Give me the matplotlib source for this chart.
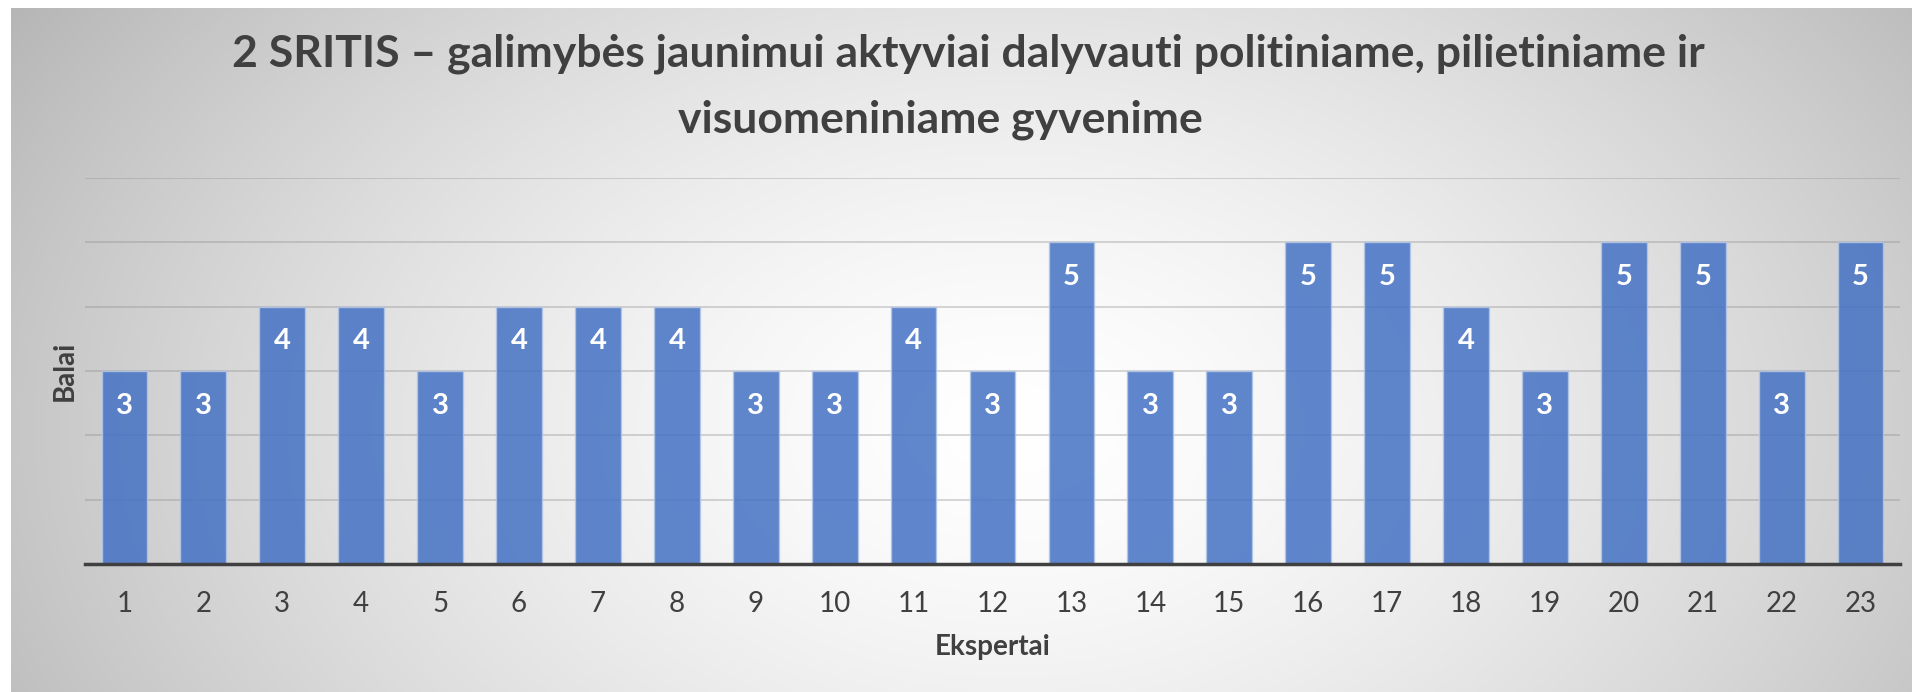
import matplotlib.pyplot as plt
import numpy as np

# data
ekspertai = [str(i) for i in range(1, 24)]
balai = [3, 3, 4, 4, 3, 4, 4, 4, 3, 3, 4, 3, 5, 3, 3, 5, 5, 4, 3, 5, 5, 3, 5]
title_1 = "2 SRITIS \u2013 galimybės jaunimui aktyviai dalyvauti politiniame, pilietiniame ir"
title_2 = "visuomeniniame gyvenime"

W, H = 1912, 692
plt.rcParams['font.family'] = ['Lato', 'DejaVu Sans']
txt = '#404040'

fig = plt.figure(figsize=(W / 100, H / 100), dpi=100)
fig.patch.set_facecolor('white')

# radial gradient background of the chart area
bg = fig.add_axes([11 / W, 0, 1 - 11 / W, 1 - 8 / H])
yy, xx = np.mgrid[0:684, 0:1901]
r = np.sqrt(((xx - 1000) / 1050.0) ** 2 + ((yy - 420) / 700.0) ** 2)
shade = 1 - 0.24 * np.clip(r, 0, 1.2) ** 1.5
bg.imshow(np.dstack([shade] * 3), aspect='auto', extent=[0, 1, 0, 1], origin='upper')
bg.axis('off')

ax = fig.add_axes([85 / W, (H - 564) / H, (1900 - 85) / W, (564 - 178) / H])
ax.set_facecolor('none')
x = np.arange(len(balai))
bars = ax.bar(x, balai, width=0.58, color='#4472C4', alpha=0.85,
              edgecolor='#B4C7E7', linewidth=1, zorder=3)
for xi, v in zip(x, balai):
    ax.text(xi, v - 0.54, str(v), ha='center', va='center', color='white',
            fontsize=21, fontweight='bold', zorder=4)

ax.set_xlim(-0.5, len(balai) - 0.5)
ax.set_ylim(0, 6)
ax.set_yticks([1, 2, 3, 4, 5, 6])
ax.set_xticks(x)
ax.set_xticklabels(ekspertai)
ax.yaxis.grid(True, color='#8a8a8a', alpha=0.4, linewidth=1.2, zorder=0)
ax.set_axisbelow(True)
ax.tick_params(axis='y', left=False, labelleft=False)
ax.tick_params(axis='x', bottom=False, labelsize=20, labelcolor=txt, pad=16)
for s in ['top', 'right', 'left']:
    ax.spines[s].set_visible(False)
ax.spines['bottom'].set_color('#404040')
ax.spines['bottom'].set_linewidth(2.5)
ax.spines['bottom'].set_zorder(5)

ax.set_xlabel('Ekspertai', fontsize=20, fontweight='bold', color=txt, labelpad=12)
ax.set_ylabel('Balai', fontsize=20, fontweight='bold', color=txt, labelpad=5)

fig.text(968 / W, 1 - 67 / H, title_1, ha='center', va='baseline',
         fontsize=32, fontweight='bold', color=txt)
fig.text(940 / W, 1 - 133 / H, title_2, ha='center', va='baseline',
         fontsize=32, fontweight='bold', color=txt)

fig.savefig('out.png', dpi=100)
